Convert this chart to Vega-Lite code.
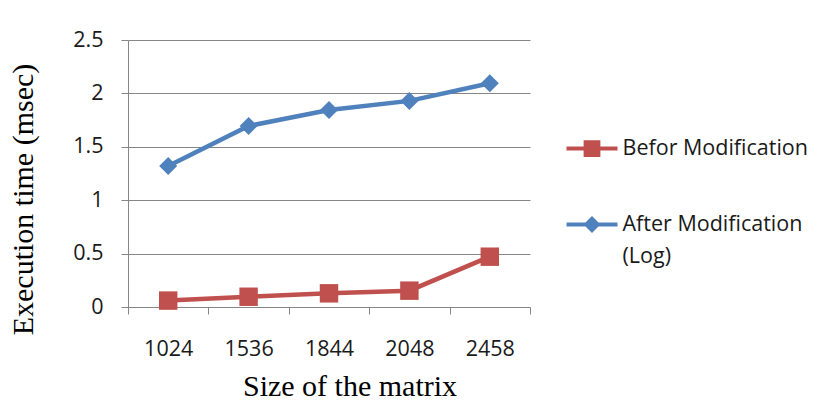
{
  "$schema": "https://vega.github.io/schema/vega-lite/v6.json",
  "autosize": {"type": "none"},
  "padding": {"left": 128, "top": 40, "right": 301, "bottom": 95},
  "width": 402,
  "height": 267,
  "background": "white",
  "data": {
    "values": [
      {"size": "1024", "series": "Befor Modification", "time": 0.06},
      {"size": "1536", "series": "Befor Modification", "time": 0.096},
      {"size": "1844", "series": "Befor Modification", "time": 0.128},
      {"size": "2048", "series": "Befor Modification", "time": 0.153},
      {"size": "2458", "series": "Befor Modification", "time": 0.471},
      {"size": "1024", "series": "After Modification (Log)", "time": 1.32},
      {"size": "1536", "series": "After Modification (Log)", "time": 1.695},
      {"size": "1844", "series": "After Modification (Log)", "time": 1.845},
      {"size": "2048", "series": "After Modification (Log)", "time": 1.93},
      {"size": "2458", "series": "After Modification (Log)", "time": 2.095}
    ]
  },
  "encoding": {
    "x": {
      "field": "size", "type": "ordinal", "sort": null,
      "scale": {"type": "band", "paddingInner": 0, "paddingOuter": 0},
      "axis": {
        "title": "Size of the matrix",
        "labelAngle": 0,
        "tickBand": "extent",
        "tickSize": 7,
        "labelPadding": 24,
        "titlePadding": 12,
        "titleX": 221.5
      }
    },
    "y": {
      "field": "time", "type": "quantitative",
      "scale": {"domain": [0, 2.5], "nice": false, "zero": true},
      "axis": {
        "title": "Execution time (msec)",
        "values": [0, 0.5, 1, 1.5, 2, 2.5],
        "format": ".1~f",
        "grid": true,
        "tickSize": 7,
        "labelPadding": 18,
        "titlePadding": 34,
        "titleY": 159
      }
    },
    "color": {
      "field": "series", "type": "nominal",
      "scale": {"domain": ["Befor Modification", "After Modification (Log)"], "range": ["#C0504D", "#4F81BD"]},
      "legend": {
        "title": null,
        "orient": "none",
        "legendX": 436.5,
        "legendY": 81,
        "padding": 0,
        "symbolSize": 2601,
        "symbolStrokeWidth": 4,
        "labelOffset": 3,
        "rowPadding": 34,
        "labelFont": "Open Sans",
        "labelFontSize": 21.5,
        "labelColor": "#1a1a1a",
        "labelLimit": 400,
        "labelExpr": "datum.value === 'After Modification (Log)' ? ['After Modification', '(Log)'] : datum.label",
        "encode": {
          "symbols": {
            "update": {
              "shape": {"signal": "datum.value === 'Befor Modification' ? 'M-1,0H1M-0.25,-0.25H0.25V0.25H-0.25Z' : 'M-1,0H1M-0.22,0L0,-0.22L0.22,0L0,0.22Z'"},
              "fill": {"signal": "scale('color', datum.value)"},
              "stroke": {"signal": "scale('color', datum.value)"},
              "strokeWidth": {"value": 4},
              "opacity": {"value": 1},
              "size": {"value": 2601}
            }
          },
          "labels": {
            "update": {
              "lineHeight": {"value": 32}
            }
          }
        }
      }
    }
  },
  "layer": [
    {"mark": {"type": "line", "strokeWidth": 4.5}},
    {
      "transform": [{"filter": "datum.series === 'Befor Modification'"}],
      "mark": {"type": "point", "shape": "square", "size": 340, "filled": true, "opacity": 1}
    },
    {
      "transform": [{"filter": "datum.series === 'After Modification (Log)'"}],
      "mark": {"type": "point", "shape": "diamond", "size": 324, "filled": true, "opacity": 1}
    }
  ],
  "config": {
    "view": {"stroke": null},
    "axis": {
      "domainColor": "#868686",
      "tickColor": "#868686",
      "gridColor": "#868686",
      "gridOpacity": 1,
      "labelFont": "Open Sans",
      "labelFontSize": 21.5,
      "labelColor": "#1a1a1a",
      "titleFont": "Liberation Serif",
      "titleFontSize": 30,
      "titleFontWeight": "normal",
      "titleColor": "#000000"
    }
  }
}
